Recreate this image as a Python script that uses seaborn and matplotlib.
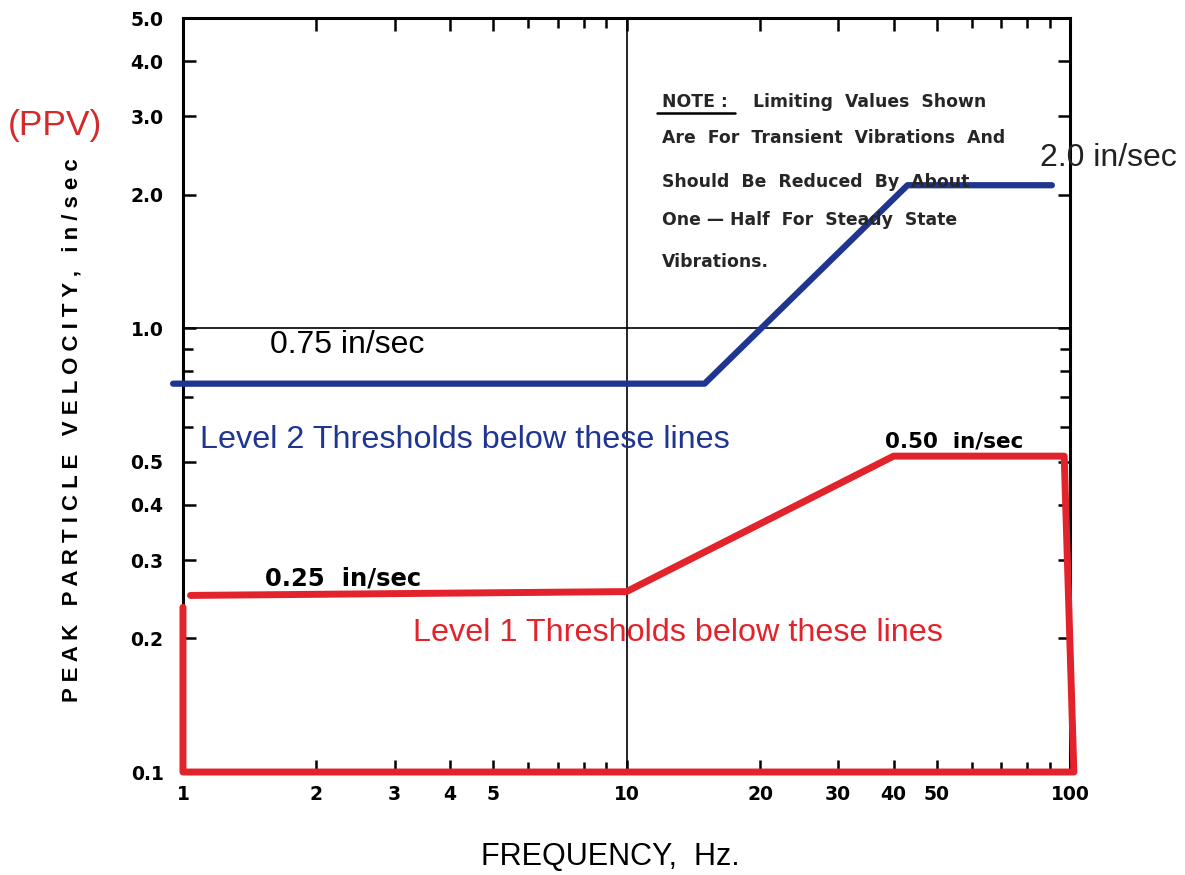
import numpy as np
import pandas as pd
import seaborn as sns
import matplotlib.pyplot as plt
from matplotlib.ticker import FixedLocator, NullFormatter

# threshold curves (frequency Hz, PPV in/sec)
level2_freq = [0.95, 15.0, 43.0, 91.0]
level2_ppv = [0.75, 0.75, 2.1, 2.1]

level1_freq = [1.0, 1.0, 102.0, 97.0, 40.0, 10.0, 1.04]
level1_ppv = [0.235, 0.1, 0.1, 0.515, 0.515, 0.255, 0.25]

x_ticks = [1, 2, 3, 4, 5, 10, 20, 30, 40, 50, 100]
x_tick_labels = ['1', '2', '3', '4', '5', '10', '20', '30', '40', '50', '100']
x_minor = [6, 7, 8, 9, 60, 70, 80, 90]
y_ticks = [0.1, 0.2, 0.3, 0.4, 0.5, 1.0, 2.0, 3.0, 4.0, 5.0]
y_tick_labels = ['0.1', '0.2', '0.3', '0.4', '0.5', '1.0', '2.0', '3.0', '4.0', '5.0']
y_minor = [0.6, 0.7, 0.8, 0.9]

note_lines = ['Are  For  Transient  Vibrations  And',
              'Should  Be  Reduced  By  About',
              'One \u2014 Half  For  Steady  State',
              'Vibrations.']

RED = '#e3232b'
BLUE = '#1f3590'

sns.set_theme(style='ticks')
plt.rcParams['font.family'] = ['Liberation Sans', 'DejaVu Sans']

fig = plt.figure(figsize=(11.85, 8.75), dpi=100)
ax = fig.add_axes([0.1544, 0.1177, 0.7486, 0.8617])

lvl2 = pd.DataFrame({'freq': level2_freq, 'ppv': level2_ppv})
lvl1 = pd.DataFrame({'freq': level1_freq, 'ppv': level1_ppv})

ax.axvline(10, color='black', lw=1.2, zorder=1)
ax.axhline(1.0, color='black', lw=1.2, zorder=1)

sns.lineplot(data=lvl2, x='freq', y='ppv', sort=False, estimator=None,
             color=BLUE, lw=4.5, ax=ax, clip_on=False, zorder=3)
sns.lineplot(data=lvl1, x='freq', y='ppv', sort=False, estimator=None,
             color=RED, lw=5, ax=ax, clip_on=False, zorder=3)

ax.set_xscale('log')
ax.set_yscale('log')
ax.set_xlim(1, 100)
ax.set_ylim(0.1, 5.0)

ax.xaxis.set_major_locator(FixedLocator(x_ticks))
ax.set_xticklabels(x_tick_labels)
ax.xaxis.set_minor_locator(FixedLocator(x_minor))
ax.xaxis.set_minor_formatter(NullFormatter())
ax.yaxis.set_major_locator(FixedLocator(y_ticks))
ax.set_yticklabels(y_tick_labels)
ax.yaxis.set_minor_locator(FixedLocator(y_minor))
ax.yaxis.set_minor_formatter(NullFormatter())

for s in ax.spines.values():
    s.set_linewidth(2.2)
    s.set_color('black')
ax.tick_params(which='both', direction='in', top=True, right=True,
               width=1.8, color='black', labelcolor='black')
ax.tick_params(which='major', length=9, labelsize=13.5)
ax.tick_params(axis='y', which='major', pad=14)
ax.tick_params(axis='x', which='major', pad=9)
ax.tick_params(which='minor', length=7)
for lab in ax.get_xticklabels() + ax.get_yticklabels():
    lab.set_fontweight('bold')
    lab.set_family(['DejaVu Sans'])

ax.set_xlabel('FREQUENCY,  Hz.', fontsize=22, color='black')
ax.xaxis.set_label_coords((610 - 183) / 887, -(857 - 772) / 754, transform=ax.transAxes)
ax.xaxis.label.set_va('center')
ax.set_ylabel('P E A K   P A R T I C L E   V E L O C I T Y ,   i n / s e c',
              fontsize=16, fontweight='bold', color='black')
ax.yaxis.set_label_coords(-0.113, (772 - 430) / 754)

# annotations
T = ax.transAxes
def fx(px):
    return (px - 183) / 887
def fy(py):
    return (772 - py) / 754

fig.text(8 / 1185, 1 - 125 / 875, '(PPV)', color='#d42a2a', fontsize=25.5,
         va='center', ha='left')
ax.text(fx(270), fy(345), '0.75 in/sec', color='black', fontsize=23,
        va='center', transform=T)
ax.text(fx(1040), fy(158), '2.0 in/sec', color='#222222', fontsize=23,
        va='center', transform=T, clip_on=False)
ax.text(fx(200), fy(440), 'Level 2 Thresholds below these lines', color=BLUE,
        fontsize=23.3, va='center', transform=T)
ax.text(fx(413), fy(633), 'Level 1 Thresholds below these lines', color=RED,
        fontsize=23.3, va='center', transform=T)
ax.text(fx(265), fy(578), '0.25  in/sec', color='black', fontsize=17.5,
        fontweight='bold', va='center', transform=T, family=['DejaVu Sans'])
ax.text(fx(885), fy(441), '0.50  in/sec', color='black', fontsize=15.5,
        fontweight='bold', va='center', transform=T, family=['DejaVu Sans'])

ax.text(fx(662), fy(102), 'NOTE :', fontsize=12.4, fontweight='bold',
        va='center', transform=T, family=['DejaVu Sans'])
ax.plot([fx(657), fx(735)], [fy(113), fy(113)], color='black', lw=1.8,
        transform=T)
ax.text(fx(753), fy(102), 'Limiting  Values  Shown', fontsize=12.4,
        fontweight='bold', va='center', transform=T, family=['DejaVu Sans'])
for i, line in enumerate(note_lines):
    ax.text(fx(662), fy([138, 182, 220, 262][i]), line, fontsize=12.4,
            fontweight='bold', va='center', transform=T, family=['DejaVu Sans'])

fig.savefig('out.png', dpi=100)
